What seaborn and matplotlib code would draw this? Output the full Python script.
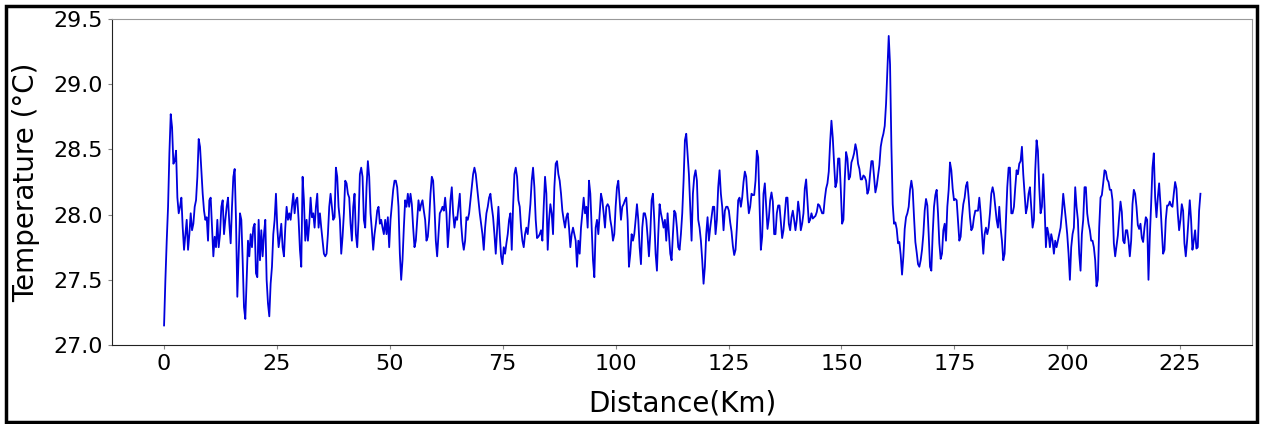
import numpy as np
import pandas as pd
import matplotlib
matplotlib.use("Agg")
import matplotlib.pyplot as plt
import seaborn as sns
from matplotlib.patches import Rectangle

####### Temperature readings along the track (deg C), evenly spaced samples
temp_0_40 = [
    27.15, 27.50, 27.80, 28.06, 28.47, 28.77, 28.67, 28.39, 28.41, 28.49, 28.13, 28.01,
    28.06, 28.13, 27.90, 27.73, 27.85, 27.96, 27.73, 27.85, 28.01, 27.88, 27.93, 28.06,
    28.11, 28.29, 28.58, 28.52, 28.34, 28.16, 28.03, 27.96, 27.98, 27.80, 28.11, 28.13,
    27.90, 27.68, 27.83, 27.75, 27.96, 27.75, 27.85, 28.06, 28.11, 27.85, 27.96, 28.06,
    28.13, 27.93, 27.78, 28.06, 28.29, 28.35, 27.96, 27.37, 27.70, 28.01, 27.96, 27.65,
    27.29, 27.20, 27.50, 27.80, 27.68, 27.85, 27.75, 27.90, 27.93, 27.55, 27.52, 27.96,
    27.65, 27.88, 27.68, 27.85, 27.96, 27.50, 27.32, 27.22, 27.47, 27.60, 27.85, 27.96,
    28.16, 27.90, 27.75, 27.83, 27.93, 27.75, 27.68, 27.90, 28.06, 27.96, 28.01, 27.96,
    28.06, 28.16, 28.01, 28.11, 28.13, 27.96, 27.73, 27.60, 28.29, 28.11, 27.80, 27.96,
    27.80, 27.93, 28.13, 27.98, 28.01, 27.90, 28.06, 28.16, 27.90, 28.01, 27.90, 27.80,
    27.70, 27.68, 27.70, 27.85, 28.06, 28.16, 28.06, 27.96, 27.98, 28.36, 28.29, 28.06,
    27.96, 27.70, 27.83, 28.01, 28.26,
]
temp_40_82 = [
    28.24, 28.16, 28.13, 27.93, 27.80, 28.06, 28.16, 27.85, 27.75, 27.96, 28.31, 28.36,
    28.29, 27.96, 27.90, 28.21, 28.41, 28.29, 28.01, 27.88, 27.73, 27.85, 27.93, 28.03,
    28.06, 27.93, 27.96, 27.90, 27.85, 27.96, 27.85, 27.98, 27.75, 27.96, 28.08, 28.19,
    28.26, 28.26, 28.21, 28.06, 27.70, 27.50, 27.65, 27.90, 28.11, 28.06, 28.16, 28.06,
    28.16, 28.08, 27.90, 27.75, 27.80, 27.96, 28.11, 28.03, 28.08, 28.11, 28.03, 27.96,
    27.80, 27.83, 27.96, 28.16, 28.29, 28.26, 28.06, 27.80, 27.68, 27.85, 28.01, 28.03,
    28.06, 28.03, 28.13, 28.01, 27.75, 27.90, 28.11, 28.21, 28.01, 27.90, 27.98, 27.96,
    28.06, 28.16, 27.93, 27.80, 27.73, 27.80, 27.98, 27.96, 28.01, 28.11, 28.21, 28.31,
    28.36, 28.31, 28.21, 28.11, 28.01, 27.93, 27.85, 27.73, 27.90, 28.01, 28.06, 28.13,
    28.16, 28.06, 27.98, 27.85, 27.70, 27.88, 28.06, 27.85, 27.68, 27.62, 27.75, 27.70,
    27.78, 27.85, 27.96, 28.01, 27.73, 28.06, 28.31, 28.36, 28.29, 28.11, 28.06, 27.90,
    27.80, 27.75, 27.85, 27.90, 27.85, 27.96, 28.08, 28.26, 28.36, 28.21, 27.96,
]
temp_82_124 = [
    27.82, 27.83, 27.85, 27.88, 27.80, 28.06, 28.29, 28.16, 27.73, 27.96, 28.08, 28.01,
    27.85, 28.21, 28.39, 28.41, 28.31, 28.26, 28.16, 28.03, 27.96, 27.90, 27.98, 28.01,
    27.90, 27.75, 27.85, 27.90, 27.85, 27.80, 27.60, 27.80, 27.70, 27.90, 28.01, 28.13,
    28.01, 28.06, 27.90, 28.26, 28.16, 27.90, 27.65, 27.52, 27.90, 27.96, 27.85, 28.01,
    28.16, 28.11, 28.01, 27.90, 28.06, 28.08, 28.06, 27.96, 27.90, 27.80, 27.85, 28.06,
    28.21, 28.26, 28.11, 27.96, 28.06, 28.08, 28.11, 28.13, 27.96, 27.60, 27.70, 27.85,
    27.80, 27.85, 27.96, 28.08, 27.96, 27.75, 27.62, 27.90, 28.01, 28.01, 27.96, 27.83,
    27.68, 27.85, 28.11, 28.16, 27.96, 27.70, 27.57, 27.85, 28.08, 28.01, 27.96, 27.90,
    27.96, 27.80, 28.01, 27.85, 27.70, 27.65, 27.85, 28.03, 28.01, 27.90, 27.75, 27.73,
    27.85, 28.01, 28.26, 28.57, 28.62, 28.47, 28.31, 28.06, 27.80, 28.16, 28.29, 28.34,
    28.26, 27.96, 27.90, 27.80, 27.65, 27.47, 27.60, 27.85, 27.98, 27.80, 27.90, 27.98,
    28.06, 28.06, 27.85, 27.96, 28.21, 28.34, 28.16, 28.06, 27.88, 28.03, 28.06,
]
temp_124_166 = [
    28.06, 28.03, 27.94, 27.87, 27.76, 27.69, 27.73, 27.90, 28.11, 28.13, 28.06, 28.13,
    28.25, 28.33, 28.29, 28.13, 28.01, 28.06, 28.16, 28.15, 28.15, 28.26, 28.49, 28.44,
    28.07, 27.73, 27.83, 28.16, 28.24, 28.06, 27.89, 27.97, 28.11, 28.17, 28.10, 27.85,
    27.85, 28.01, 28.07, 28.07, 27.94, 27.82, 27.88, 28.01, 28.13, 28.13, 27.93, 27.88,
    27.98, 28.03, 27.96, 27.88, 27.96, 28.10, 28.02, 27.88, 27.93, 28.01, 28.20, 28.27,
    28.11, 27.94, 27.96, 28.01, 27.97, 27.98, 27.99, 28.02, 28.08, 28.07, 28.04, 28.01,
    28.01, 28.12, 28.20, 28.24, 28.33, 28.55, 28.72, 28.59, 28.39, 28.21, 28.25, 28.43,
    28.43, 28.20, 27.93, 27.96, 28.27, 28.48, 28.43, 28.27, 28.29, 28.40, 28.43, 28.47,
    28.54, 28.49, 28.39, 28.35, 28.27, 28.27, 28.30, 28.29, 28.26, 28.16, 28.19, 28.31,
    28.41, 28.41, 28.29, 28.17, 28.22, 28.30, 28.38, 28.52, 28.58, 28.62, 28.68, 28.85,
    29.10, 29.37, 29.15, 28.53, 28.08, 27.93, 27.94, 27.89, 27.78, 27.79, 27.69, 27.54,
    27.68, 27.89, 27.98, 28.01, 28.06, 28.19, 28.26, 28.19, 27.98, 27.79, 27.71,
]
temp_166_205 = [
    27.62, 27.60, 27.65, 27.73, 27.85, 28.03, 28.12, 28.07, 27.85, 27.60, 27.57, 27.85,
    28.06, 28.15, 28.19, 28.01, 27.78, 27.66, 27.70, 27.88, 27.93, 27.80, 28.06, 28.19,
    28.40, 28.34, 28.20, 28.11, 28.12, 28.11, 27.96, 27.80, 27.83, 27.98, 28.08, 28.13,
    28.22, 28.25, 28.13, 27.98, 27.88, 27.90, 27.98, 28.03, 28.03, 28.03, 28.13, 28.01,
    27.85, 27.70, 27.85, 27.90, 27.85, 27.90, 28.01, 28.16, 28.21, 28.16, 28.06, 27.96,
    27.90, 28.06, 27.90, 27.80, 27.65, 27.70, 27.96, 28.21, 28.36, 28.36, 28.01, 28.01,
    28.06, 28.21, 28.34, 28.31, 28.39, 28.41, 28.52, 28.31, 28.16, 28.01, 28.06, 28.16,
    28.21, 28.06, 27.90, 27.96, 28.34, 28.57, 28.49, 28.21, 28.01, 28.06, 28.31, 28.06,
    27.75, 27.90, 27.85, 27.75, 27.85, 27.80, 27.70, 27.80, 27.75, 27.80, 27.85, 27.90,
    28.01, 28.16, 28.06, 27.96, 27.85, 27.70, 27.50, 27.75, 27.85, 27.90, 28.21, 28.06,
    27.96, 27.70, 27.57, 27.85, 27.96, 28.21, 28.21, 28.01, 27.93, 27.88, 27.80, 27.80,
    27.75, 27.65,
]
temp_205_230 = [
    27.45, 27.50, 27.90, 28.13, 28.15, 28.24, 28.34, 28.33, 28.27, 28.25, 28.19, 28.19,
    28.11, 27.78, 27.68, 27.76, 27.84, 27.98, 28.10, 28.02, 27.80, 27.78, 27.88, 27.88,
    27.80, 27.68, 27.80, 28.08, 28.19, 28.16, 28.06, 27.92, 27.89, 27.93, 27.82, 27.79,
    27.90, 27.98, 27.96, 27.50, 27.83, 28.08, 28.36, 28.47, 28.13, 27.98, 28.13, 28.24,
    28.08, 27.88, 27.70, 27.73, 27.96, 28.07, 28.07, 28.10, 28.07, 28.06, 28.16, 28.25,
    28.20, 28.01, 27.88, 27.96, 28.08, 28.03, 27.78, 27.68, 27.80, 27.96, 28.11, 27.96,
    27.73, 27.80, 27.88, 27.74, 27.75, 28.03, 28.16,
]

start_km = 0.0
end_km = 229.5

temperature = temp_0_40 + temp_40_82 + temp_82_124 + temp_124_166 + temp_166_205 + temp_205_230
distance = np.linspace(start_km, end_km, len(temperature))
df = pd.DataFrame({"distance": distance, "temperature": temperature})

fig = plt.figure(figsize=(12.64, 4.24), dpi=100)
ax = fig.add_axes([0.0888, 0.1863, 0.9019, 0.7689])

sns.lineplot(data=df, x="distance", y="temperature", color="#0000dd", linewidth=1.3, ax=ax)

ax.set_ylim(27.0, 29.5)
ax.set_yticks(np.arange(27.0, 29.51, 0.5))
ax.yaxis.set_major_formatter(matplotlib.ticker.FormatStrFormatter("%.1f"))
ax.set_xticks(np.arange(0, 226, 25))
ax.tick_params(labelsize=16, colors="#888888", labelcolor="black", length=3)

for side in ["top", "right"]:
    ax.spines[side].set_color("#999999")
for side in ["left", "bottom"]:
    ax.spines[side].set_color("#222222")

ax.set_xlabel("Distance(Km)", fontsize=20)
ax.set_ylabel("Temperature (°C)", fontsize=20)
ax.xaxis.set_label_coords(0.5, -0.135)
ax.yaxis.set_label_coords(-0.063, 0.5)

# black frame round the whole picture
fig.patches.append(Rectangle((0.0048, 0.0047), 0.9898, 0.9811, transform=fig.transFigure,
                             fill=False, edgecolor="black", linewidth=2.5))

fig.savefig("out.png", dpi=100)
